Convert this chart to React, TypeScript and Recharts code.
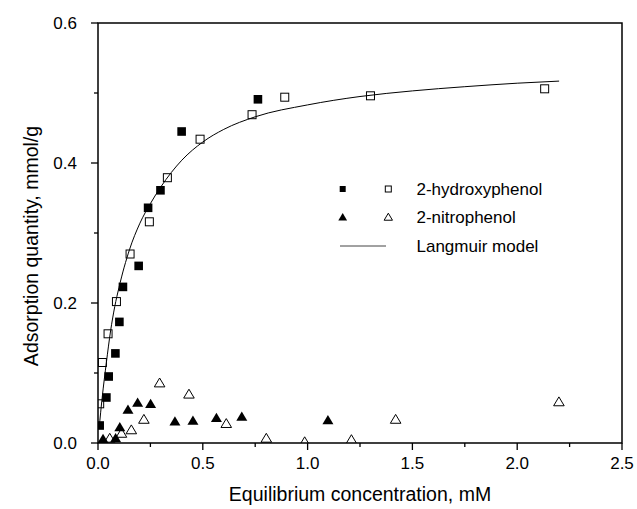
import React from 'react';
import { ComposedChart, Scatter, XAxis, YAxis, ReferenceArea } from 'recharts';

// 2-hydroxyphenol, filled squares
const hydroxyFilled = [
  { x: 0.008, y: 0.025 }, { x: 0.040, y: 0.065 }, { x: 0.051, y: 0.095 }, { x: 0.083, y: 0.128 },
  { x: 0.102, y: 0.173 }, { x: 0.119, y: 0.223 }, { x: 0.194, y: 0.253 }, { x: 0.239, y: 0.336 },
  { x: 0.298, y: 0.361 }, { x: 0.399, y: 0.445 }, { x: 0.763, y: 0.491 },
];
// 2-hydroxyphenol, open squares
const hydroxyOpen = [
  { x: 0.008, y: 0.056 }, { x: 0.021, y: 0.115 }, { x: 0.048, y: 0.156 }, { x: 0.088, y: 0.202 },
  { x: 0.153, y: 0.270 }, { x: 0.245, y: 0.316 }, { x: 0.331, y: 0.379 }, { x: 0.487, y: 0.434 },
  { x: 0.735, y: 0.469 }, { x: 0.891, y: 0.494 }, { x: 1.300, y: 0.496 }, { x: 2.131, y: 0.506 },
];
// 2-nitrophenol, filled triangles
const nitroFilled = [
  { x: 0.024, y: 0.006 }, { x: 0.084, y: 0.007 }, { x: 0.104, y: 0.023 }, { x: 0.143, y: 0.048 },
  { x: 0.189, y: 0.058 }, { x: 0.251, y: 0.056 }, { x: 0.367, y: 0.031 }, { x: 0.453, y: 0.032 },
  { x: 0.565, y: 0.036 }, { x: 0.686, y: 0.038 }, { x: 1.097, y: 0.033 },
];
// 2-nitrophenol, open triangles
const nitroOpen = [
  { x: 0.056, y: 0.007 }, { x: 0.112, y: 0.014 }, { x: 0.159, y: 0.019 }, { x: 0.219, y: 0.034 },
  { x: 0.294, y: 0.086 }, { x: 0.434, y: 0.070 }, { x: 0.612, y: 0.028 }, { x: 0.803, y: 0.007 },
  { x: 0.986, y: 0.002 }, { x: 1.209, y: 0.005 }, { x: 1.420, y: 0.034 }, { x: 2.199, y: 0.059 },
];
// Langmuir model curve
const langmuir = [
  { x: 0.005, y: 0.02 }, { x: 0.02, y: 0.065 }, { x: 0.04, y: 0.115 }, { x: 0.06, y: 0.16 },
  { x: 0.08, y: 0.195 }, { x: 0.1, y: 0.222 }, { x: 0.15, y: 0.276 }, { x: 0.2, y: 0.314 },
  { x: 0.25, y: 0.342 }, { x: 0.3, y: 0.366 }, { x: 0.4, y: 0.404 }, { x: 0.5, y: 0.43 },
  { x: 0.6, y: 0.448 }, { x: 0.75, y: 0.466 }, { x: 1.0, y: 0.483 }, { x: 1.25, y: 0.495 },
  { x: 1.5, y: 0.503 }, { x: 1.75, y: 0.509 }, { x: 2.0, y: 0.514 }, { x: 2.2, y: 0.517 },
];

const xTicks = [0, 0.25, 0.5, 0.75, 1.0, 1.25, 1.5, 1.75, 2.0, 2.25, 2.5];
const xMajor = [0, 0.5, 1.0, 1.5, 2.0, 2.5];
const yTicks = [0, 0.1, 0.2, 0.3, 0.4, 0.5, 0.6];
const yMajor = [0, 0.2, 0.4, 0.6];

const legendItems = ['2-hydroxyphenol', '2-nitrophenol', 'Langmuir model'];
const xTitle = 'Equilibrium concentration, mM';
const yTitle = 'Adsorption quantity, mmol/g';

const FONT = '"Liberation Sans", Arial, sans-serif';
const isMajor = (v: number, list: number[]) => list.some((m) => Math.abs(m - v) < 1e-6);

const XTick = (p: any) => {
  const v = p.payload.value;
  const major = isMajor(v, xMajor);
  return (
    <g>
      <line x1={p.x} x2={p.x} y1={p.y} y2={p.y + (major ? 7 : 4)} stroke="#000" strokeWidth={1.3} />
      {major && (
        <text x={p.x} y={p.y + 26} textAnchor="middle" fontSize={17} fontFamily={FONT} fill="#000">
          {v.toFixed(1)}
        </text>
      )}
    </g>
  );
};

const YTick = (p: any) => {
  const v = p.payload.value;
  const major = isMajor(v, yMajor);
  return (
    <g>
      <line x1={p.x} x2={p.x - (major ? 7 : 4)} y1={p.y} y2={p.y} stroke="#000" strokeWidth={1.3} />
      {major && (
        <text x={p.x - 21} y={p.y + 6} textAnchor="end" fontSize={17} fontFamily={FONT} fill="#000">
          {v.toFixed(1)}
        </text>
      )}
    </g>
  );
};

const YLabel = (p: any) => {
  const vb = p.viewBox || { x: 0, y: 23, width: 98, height: 420 };
  const cx = vb.x + 31;
  const cy = vb.y + vb.height / 2 + 13;
  return (
    <text
      x={cx}
      y={cy}
      transform={`rotate(-90, ${cx}, ${cy})`}
      textAnchor="middle"
      dominantBaseline="central"
      fontSize={19.5}
      fontFamily={FONT}
      fill="#000"
    >
      {yTitle}
    </text>
  );
};

const FilledSquare = (p: any) => (
  <rect x={p.cx - 4.3} y={p.cy - 4.3} width={8.6} height={8.6} fill="#000" />
);
const OpenSquare = (p: any) => (
  <rect x={p.cx - 4} y={p.cy - 4} width={8} height={8} fill="none" stroke="#000" strokeWidth={1} />
);
const triPts = (cx: number, cy: number, r: number) =>
  `${cx},${cy - r} ${cx + r * 1.1},${cy + r * 0.85} ${cx - r * 1.1},${cy + r * 0.85}`;
const FilledTri = (p: any) => <polygon points={triPts(p.cx, p.cy, 5)} fill="#000" />;
const OpenTri = (p: any) => (
  <polygon points={triPts(p.cx, p.cy, 4.8)} fill="none" stroke="#000" strokeWidth={1} />
);
const NoDot = () => <g />;

const LegendBox = () => (
  <svg width={637} height={509} style={{ position: 'absolute', left: 0, top: 0, pointerEvents: 'none' }}>
    <rect x={339.7} y={186} width={6} height={6} fill="#000" />
    <rect x={385.3} y={186} width={6} height={6} fill="none" stroke="#000" strokeWidth={1} />
    <polygon points={triPts(342.7, 217, 4)} fill="#000" />
    <polygon points={triPts(388.3, 217, 3.8)} fill="none" stroke="#000" strokeWidth={1} />
    <line x1={340} x2={386} y1={246} y2={246} stroke="#444" strokeWidth={1} />
    {legendItems.map((t, i) => (
      <text key={t} x={416.5} y={[189, 217, 246][i] + 6} fontSize={17} fontFamily={FONT} fill="#000">
        {t}
      </text>
    ))}
  </svg>
);

export default function App() {
  return (
    <div style={{ position: 'absolute', left: 0, top: 0, width: 637, height: 509, background: '#fff' }}>
      <ComposedChart
        width={637}
        height={509}
        margin={{ top: 23, right: 15, bottom: 0, left: 0 }}
        style={{ background: '#fff' }}
      >
        <XAxis
          type="number"
          dataKey="x"
          domain={[0, 2.5]}
          ticks={xTicks}
          interval={0}
          allowDataOverflow
          height={66}
          tickSize={0}
          tickMargin={0}
          tickLine={false}
          axisLine={false}
          tick={<XTick />}
          label={{ value: xTitle, position: 'insideBottom', offset: 8, fontSize: 19.5, fontFamily: FONT, fill: '#000' }}
        />
        <YAxis
          type="number"
          dataKey="y"
          domain={[0, 0.6]}
          ticks={yTicks}
          interval={0}
          allowDataOverflow
          width={98}
          tickSize={0}
          tickMargin={0}
          tickLine={false}
          axisLine={false}
          tick={<YTick />}
          label={<YLabel />}
        />
        <ReferenceArea x1={0} x2={2.5} y1={0} y2={0.6} fill="none" stroke="#000" strokeWidth={1.5} fillOpacity={0} />
        <Scatter data={langmuir} dataKey="y" line={{ stroke: '#000', strokeWidth: 1 }} lineJointType="monotoneX" shape={<NoDot />} isAnimationActive={false} />
        <Scatter data={hydroxyFilled} dataKey="y" shape={<FilledSquare />} isAnimationActive={false} />
        <Scatter data={hydroxyOpen} dataKey="y" shape={<OpenSquare />} isAnimationActive={false} />
        <Scatter data={nitroFilled} dataKey="y" shape={<FilledTri />} isAnimationActive={false} />
        <Scatter data={nitroOpen} dataKey="y" shape={<OpenTri />} isAnimationActive={false} />
      </ComposedChart>
      <LegendBox />
    </div>
  );
}
